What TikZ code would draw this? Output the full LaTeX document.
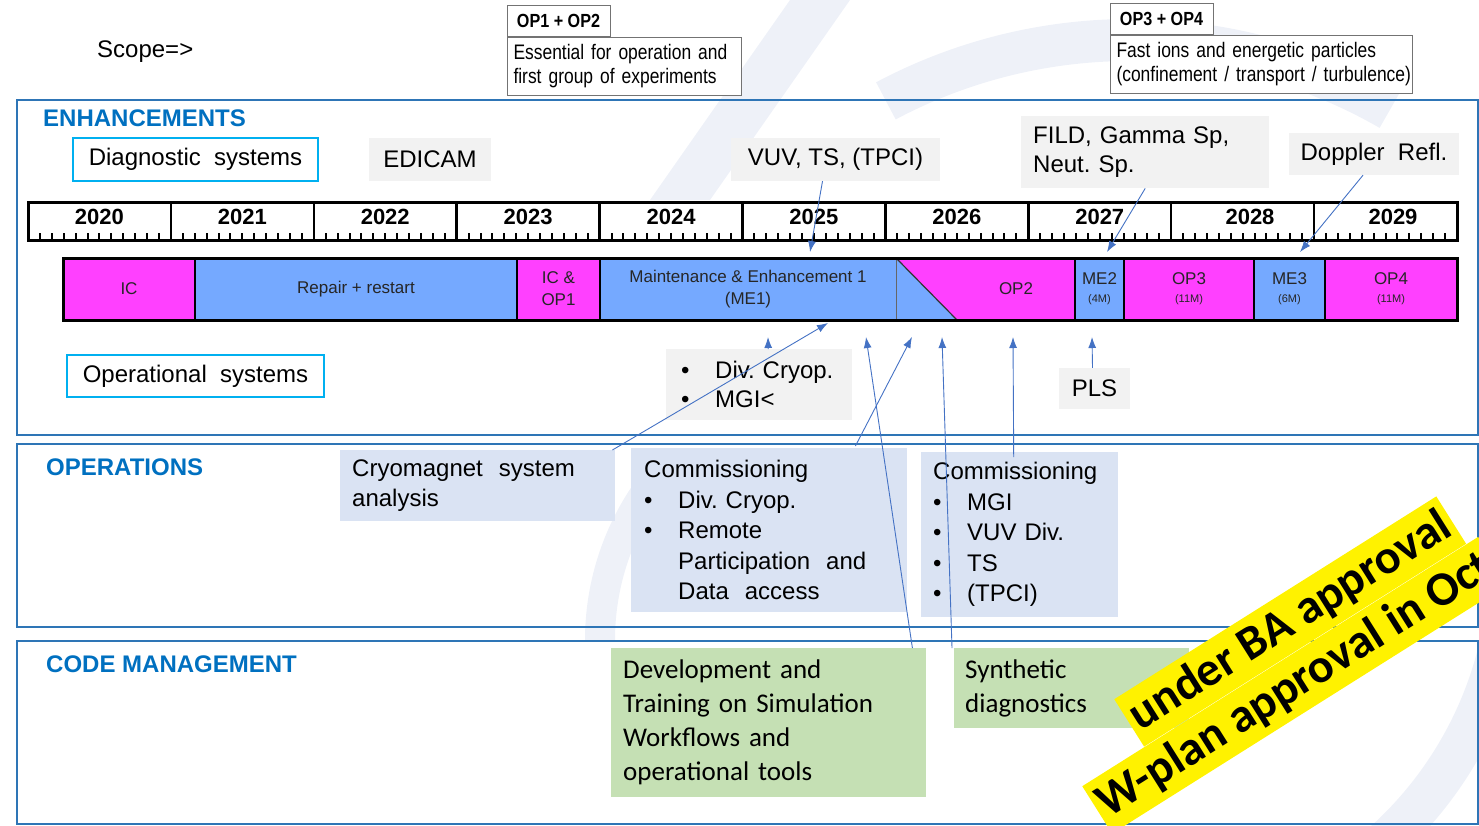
\documentclass[tikz,border=0pt]{standalone}
\usepackage{fontspec}
\setmainfont{Liberation Sans}
\newfontfamily\narrowfont[FakeStretch=0.83, WordSpace=0.6]{Liberation Sans}
\newfontfamily\narrowtitle[FakeStretch=0.85]{Liberation Sans}
\newfontfamily\calfont{Carlito}
\usetikzlibrary{arrows.meta,calc,positioning}

\definecolor{secblue}{HTML}{2E75B6}
\definecolor{titleblue}{HTML}{0070C0}
\definecolor{cyanline}{HTML}{00B0F0}
\definecolor{arrblue}{HTML}{4472C4}
\definecolor{boxgray}{HTML}{F2F2F2}
\definecolor{opsfill}{HTML}{DAE3F3}
\definecolor{codefill}{HTML}{C5E0B4}
\definecolor{phmag}{HTML}{FF40FF}
\definecolor{phblue}{HTML}{75A9FF}
\definecolor{wmark}{HTML}{EEF1F8}

\newcommand{\bul}[1]{\mbox{\makebox[34pt][l]{\textbullet}#1}}
\newcommand{\hng}[1]{\mbox{\hspace*{34pt}#1}}

\tikzset{
  sect/.style={draw=secblue, line width=1.8pt},
  secttitle/.style={anchor=west, inner sep=0pt, text=titleblue, font=\fontsize{24}{28}\selectfont\bfseries},
  sysbox/.style={draw=cyanline, line width=1.5pt, fill=white, inner sep=0pt, font=\fontsize{24}{28}\selectfont},
  graybox/.style={fill=boxgray, inner sep=0pt, align=left, font=\fontsize{24}{29}\selectfont},
  opsbox/.style={fill=opsfill, anchor=north west, align=left, inner ysep=0pt, font=\fontsize{24}{30.5}\selectfont},
  codebox/.style={fill=codefill, anchor=north west, align=left, inner ysep=0pt, font=\calfont\fontsize{27}{34}\selectfont},
  scopetitle/.style={draw=black!55, line width=1pt, fill=white, inner sep=0pt, font=\narrowtitle\bfseries\fontsize{19}{22}\selectfont},
  scopetext/.style={draw=black!55, line width=1pt, fill=white, anchor=north west, inner ysep=0pt, align=left, font=\narrowfont\fontsize{21}{24}\selectfont},
  phase/.style={inner sep=0pt, align=center, text=black!85, font=\fontsize{17}{22}\selectfont},
  yearlbl/.style={inner sep=0pt, font=\bfseries\fontsize{22}{24}\selectfont},
  arr/.style={draw=arrblue, line width=0.9pt, -{Latex[length=11pt,width=8pt]}},
  banner/.style={fill=yellow, anchor=west, rotate=32.2, inner xsep=5pt, minimum height=56, font=\calfont\bfseries\fontsize{48}{50}\selectfont}
}

\begin{document}
\frenchspacing
\begin{tikzpicture}[x=1pt, y=-1pt]
		%%%%% START %%%%%
		\useasboundingbox (0,0) rectangle (1479,825);
		\clip (0,0) rectangle (1479,825);
		
		% faint logo in the back
		\draw[wmark, line width=42] (1130,560) ++(8:380) arc (8:62:380);
		\draw[wmark, line width=42] (1130,560) ++(-118:520) arc (-118:-60:520);
		\fill[wmark] (650,200) -- (790,0) -- (850,0) -- (710,200) -- cycle;
		\draw[wmark, line width=30] (600,640) arc (180:215:260);
		
		% scope
		\node[anchor=west, inner sep=0pt, font=\fontsize{24}{28}\selectfont] (scope) at (97,52) {Scope=>};
		\node[scopetitle, minimum width=103, minimum height=31] (op12t) at (558.5,20.5) {OP1 + OP2};
		\node[scopetext, inner xsep=6pt, text width=222, minimum height=58] (op12d) at (507,37) {\mbox{Essential for operation and}\\\mbox{first group of experiments}};
		\node[scopetitle, minimum width=103, minimum height=31] (op34t) at (1161.5,18.5) {OP3 + OP4};
		\node[scopetext, inner xsep=6pt, text width=290, minimum height=58] (op34d) at (1110,35) {\mbox{Fast ions and energetic particles}\\\mbox{(confinement / transport / turbulence)}};
		
		% sections
		\draw[sect] (17,100) rectangle (1478,435);
		\draw[sect] (17,444) rectangle (1478,627);
		\draw[sect] (17,641) rectangle (1478,824);
		\node[secttitle] (enh) at (43,118) {ENHANCEMENTS};
		\node[secttitle] (ops) at (46,467) {OPERATIONS};
		\node[secttitle] (code) at (46,664) {CODE MANAGEMENT};
		
		% diagnostics on top
		\node[sysbox, minimum width=245, minimum height=43] (diag) at (195.5,159.5) {Diagnostic\ \ systems};
		\node[graybox, minimum width=122, minimum height=43] (edicam) at (430,159.5) {EDICAM};
		\node[graybox, minimum width=209, minimum height=43] (vuv) at (835.5,159.5) {VUV, TS, (TPCI)};
		\node[graybox, anchor=north west, inner xsep=12pt, text width=224, minimum height=72] (fild) at (1021,116) {FILD, Gamma Sp,\\Neut. Sp.};
		\node[graybox, minimum width=170, minimum height=42] (doppler) at (1374,154) {Doppler\ \ Refl.};
		
		% year ruler
		\fill[white] (28,202) rectangle (1457,240);
		\foreach \k [evaluate=\k as \yr using int(2020+\k)] in {0,...,9}{
			\foreach \m in {1,...,11}
				\draw[line width=2pt] ({28+142.9*\k+11.908*\m},240) -- ++(0,-7);
			\ifnum\k<8
				\node[yearlbl] (y\yr) at ({28+142.9*\k+71.45},217) {\yr};
			\fi
		}
		\foreach \k in {1,...,9}
			\draw[line width=2.5pt] ({28+142.9*\k},202) -- ({28+142.9*\k},240);
		\node[yearlbl] (y2028) at (1250,217) {2028};
		\node[yearlbl] (y2029) at (1393,217) {2029};
		\draw[line width=3pt] (28,202) rectangle (1457,240);
		
		% phase bar
		\foreach \xa/\xb/\col in {63/195/phmag, 195/517/phblue, 517/600/phmag, 600/896/phblue, 957/1075/phmag, 1075/1124/phblue, 1124/1254/phmag, 1254/1325/phblue, 1325/1457/phmag}
			\fill[\col] (\xa,258) rectangle (\xb,320);
		\fill[phblue] (896,258) -- (896,320) -- (957,320) -- cycle;
		\fill[phmag] (896,258) -- (957,258) -- (957,320) -- cycle;
		\draw[line width=1.2pt, black!80] (896,258) -- (957,320);
		\draw[line width=0.8pt, black!60] (896,258) -- (896,320);
		\foreach \xs in {195,517,600,1075,1124,1254,1325}
			\draw[line width=2.5pt] (\xs,258) -- (\xs,320);
		\draw[line width=3pt] (63,258) rectangle (1457,320);
		
		\node[phase] (ic) at (129,289) {IC};
		\node[phase] (repair) at (356,289) {Repair + restart};
		\node[phase] (icop1) at (558.5,289) {IC \&\\OP1};
		\node[phase] (me1) at (748,289) {Maintenance \& Enhancement 1\\(ME1)};
		\node[phase] (op2) at (1016,289) {OP2};
		\node[phase] (me2) at (1099.5,289) {ME2\\[-4pt]{\fontsize{11}{12}\selectfont(4M)}};
		\node[phase] (op3) at (1189,289) {OP3\\[-4pt]{\fontsize{11}{12}\selectfont(11M)}};
		\node[phase] (me3) at (1289.5,289) {ME3\\[-4pt]{\fontsize{11}{12}\selectfont(6M)}};
		\node[phase] (op4) at (1391,289) {OP4\\[-4pt]{\fontsize{11}{12}\selectfont(11M)}};
		
		% operational systems
		\node[sysbox, minimum width=257, minimum height=42] (opsys) at (195.5,376) {Operational\ \ systems};
		\node[graybox, anchor=north west, inner xsep=15pt, text width=156, minimum height=71] (divc) at (666,349) {\bul{Div. Cryop.}\\\bul{MGI<}};
		\node[graybox, minimum width=71, minimum height=41] (pls) at (1094.5,388.5) {PLS};
		
		% operations
		\node[opsbox, inner xsep=12pt, text width=251, minimum height=71] (cryo) at (340,450) {Cryomagnet\ \ system\\analysis};
		\node[opsbox, inner xsep=13pt, text width=250, minimum height=164] (comm1) at (631,448) {Commissioning\\\bul{Div. Cryop.}\\\bul{Remote}\\\hng{Participation\ \ and}\\\hng{Data\ \ access}};
		\node[opsbox, inner xsep=12pt, text width=173, minimum height=165] (comm2) at (921,452) {Commissioning\\\bul{MGI}\\\bul{VUV Div.}\\\bul{TS}\\\bul{(TPCI)}};
		
		% code management
		\node[codebox, inner xsep=12pt, text width=291, minimum height=149] (dev) at (611,648) {Development and\\Training on Simulation\\Workflows and\\operational tools};
		\node[codebox, inner xsep=11pt, text width=213, minimum height=80] (synth) at (954,648) {Synthetic\\diagnostics};
		
		% arrows
		\coordinate (me1in) at (810,252);
		\coordinate (me2in) at (1107,252);
		\coordinate (me3in) at (1300,252);
		\draw[arr] ([xshift=-13pt]vuv.south) -- (me1in);
		\draw[arr] (fild.south) -- (me2in);
		\draw[arr] ([xshift=-11pt]doppler.south) -- (me3in);
		
		\coordinate (cryoin) at (828,323);
		\coordinate (divcin) at (768,337);
		\coordinate (comm1in) at (912,337);
		\coordinate (devin) at (866,337);
		\coordinate (synthin) at (942,337);
		\coordinate (comm2in) at (1013,337);
		\coordinate (plsin) at (1092,337);
		\draw[arr] ([xshift=-3pt]cryo.north east) -- (cryoin);
		\draw[arr] ([xshift=9pt]divc.north) -- (divcin);
		\draw[arr] ([xshift=-52pt,yshift=2pt]comm1.north east) -- (comm1in);
		\draw[arr] ([xshift=-14pt]dev.north east) -- (devin);
		\draw[arr] ([xshift=-2pt]synth.north west) -- (synthin);
		\draw[arr] ([xshift=-6pt,yshift=-5pt]comm2.north) -- (comm2in);
		\draw[arr] ([xshift=-2pt]pls.north) -- (plsin);
		
		% approval banner
		\node[banner] (ba) at (1129,723) {under BA approval};
		\node[banner] (wplan) at (1097,810) {W-plan approval in Oct};
		
		%%%%% END %%%%%
\end{tikzpicture}
\end{document}
